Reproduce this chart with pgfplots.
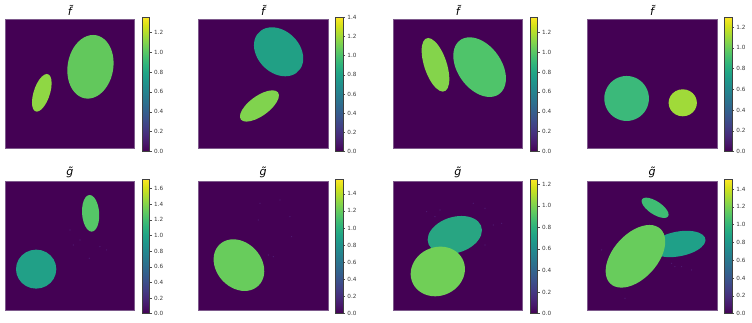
\documentclass[border=0pt]{standalone}
\usepackage{fontspec}
\setmainfont{DejaVu Sans}
\usepackage{pgfplots}
\pgfplotsset{compat=1.18}
\definecolor{vbg}{HTML}{440154}
\definecolor{vframe}{HTML}{7E5A8C}
\definecolor{tlab}{HTML}{3A3A3A}
\definecolor{speck}{HTML}{4F1A72}
\definecolor{a1}{RGB}{98,200,92}
\definecolor{a2}{RGB}{143,215,68}
\definecolor{b1}{RGB}{33,160,133}
\definecolor{b2}{RGB}{128,211,78}
\definecolor{c1}{RGB}{132,212,75}
\definecolor{c2}{RGB}{79,196,106}
\definecolor{d1}{RGB}{59,185,122}
\definecolor{d2}{RGB}{160,218,57}
\definecolor{e1}{RGB}{85,198,103}
\definecolor{e2}{RGB}{33,160,135}
\definecolor{f1}{RGB}{104,204,92}
\definecolor{g1}{RGB}{40,165,130}
\definecolor{g2}{RGB}{112,207,87}
\definecolor{h1}{RGB}{63,188,115}
\definecolor{h2}{RGB}{31,160,136}
\definecolor{h3}{RGB}{104,204,92}
\pgfplotsset{
  panel/.style n args={4}{% x, y of top-left in reference px, meta max, yticks
    at={(#1pt,{(322-#2)*1pt})}, anchor=north west,
    scale only axis, width=129.6pt, height=129pt,
    xmin=0, xmax=389, ymin=0, ymax=387, y dir=reverse,
    xtick=\empty, ytick=\empty,
    axis line style={vframe, line width=0.7pt},
    axis background/.style={fill=vbg},
    colormap/viridis, colorbar,
    point meta min=0, point meta max=#3,
    title style={font=\fontsize{11}{13}\selectfont, yshift=-6pt},
    colorbar style={
      at={(parent axis.north east)}, anchor=north west,
      xshift=-0.84pt, yshift=2.1pt,
      scale only axis, width=7.3pt, height=134.4pt,
      axis line style={black!75, line width=0.5pt},
      ytick={#4}, ytick pos=right, yticklabel pos=right,
      ytick align=outside, major tick length=2.2pt,
      tick style={black!70, line width=0.4pt},
      yticklabel style={font=\fontsize{5.7}{6}\selectfont, text=tlab, xshift=-1.2pt,
        /pgf/number format/fixed, /pgf/number format/fixed zerofill,
        /pgf/number format/precision=1, /pgf/number format/assume math mode=true},
    },
  },
  ell/.style={draw=none, fill=#1, smooth cycle, tension=0.632, no markers, forget plot},
  spk/.style={only marks, mark=*, mark size=0.35pt, speck, forget plot},
}
\begin{document}
\begin{tikzpicture}[x=1pt,y=1pt]
\path[use as bounding box] (0,0) rectangle (752,322);
% ---------- top row
\begin{axis}[panel={5}{19.3}{1.35}{0,0.2,...,1.2}, title={\itshape f̃}]
\addplot[ell=a1] coordinates {(264.5,47)(297.9,59.8)(320.3,94.7)(325.5,142.5)(312.3,190.2)(284.1,225.2)(248.5,238)(215.1,225.2)(192.7,190.2)(187.5,142.5)(200.7,94.7)(228.9,59.8)};
\addplot[ell=a2] coordinates {(125.5,164)(136.2,171.6)(140,192.2)(135.9,220.5)(125,248.8)(110.2,269.4)(95.5,277)(84.8,269.4)(81,248.8)(85.1,220.5)(96,192.2)(110.8,171.6)};
\end{axis}
\begin{axis}[panel={198.3}{19.3}{1.4}{0,0.2,...,1.4}, title={\itshape f̃}]
\addplot[ell=b1] coordinates {(221,24)(259.3,33.8)(292.7,60.7)(312.2,97.5)(312.7,134.3)(293.9,161.2)(261,171)(222.7,161.2)(189.3,134.3)(169.8,97.5)(169.3,60.7)(188.1,33.8)};
\addplot[ell=b2] coordinates {(222.5,213)(239.1,219.3)(240.8,236.5)(227.1,260)(201.8,283.5)(171.5,300.7)(144.5,307)(127.9,300.7)(126.2,283.5)(139.9,260)(165.2,236.5)(195.5,219.3)};
\end{axis}
\begin{axis}[panel={393}{19.3}{1.35}{0,0.2,...,1.2}, title={\itshape f̃}]
\addplot[ell=c1] coordinates {(105.5,56)(126,66.8)(147,96.2)(162.7,136.5)(169,176.8)(164.2,206.2)(149.5,217)(129,206.2)(108,176.8)(92.3,136.5)(86,96.2)(90.8,66.8)};
\addplot[ell=c2] coordinates {(230,54)(270.6,66)(308.3,98.7)(333.1,143.5)(338.3,188.3)(322.6,221)(290,233)(249.4,221)(211.7,188.3)(186.9,143.5)(181.7,98.7)(197.4,66)};
\end{axis}
\begin{axis}[panel={587.3}{19.3}{1.296}{0,0.2,...,1.2}, title={\itshape f̃}]
\addplot[ell=d1] coordinates {(118,170)(151.5,179)(176,203.7)(185,237.5)(176,271.3)(151.5,296)(118,305)(84.5,296)(60,271.3)(51,237.5)(60,203.7)(84.5,179)};
\addplot[ell=d2] coordinates {(286.5,210)(307.8,215.4)(323.3,230.2)(329,250.5)(323.3,270.8)(307.8,285.6)(286.5,291)(265.2,285.6)(249.7,270.8)(244,250.5)(249.7,230.2)(265.2,215.4)};
\end{axis}
% ---------- bottom row
\begin{axis}[panel={5}{181.3}{1.72}{0,0.2,...,1.6}, title={\itshape g̃}]
\addplot[spk] coordinates {(195,146)(205,191)(285,196)(305,206)(253,231)(225,176)};
\addplot[ell=e1] coordinates {(254,41)(267.3,48.4)(277.8,68.5)(282.8,96)(280.8,123.5)(272.5,143.6)(260,151)(246.7,143.6)(236.2,123.5)(231.2,96)(233.2,68.5)(241.5,48.4)};
\addplot[ell=e2] coordinates {(93.5,205)(123.8,212.8)(145.9,234.2)(154,263.5)(145.9,292.8)(123.8,314.2)(93.5,322)(63.2,314.2)(41.1,292.8)(33,263.5)(41.1,234.2)(63.2,212.8)};
\end{axis}
\begin{axis}[panel={198.3}{181.3}{1.57}{0,0.2,...,1.4}, title={\itshape g̃}]
\addplot[spk] coordinates {(180,116)(185,66)(245,56)(280,166)(225,226)(210,221)(275,106)};
\addplot[ell=f1] coordinates {(105,174)(144.3,184.4)(177.7,212.7)(196.1,251.5)(194.7,290.3)(173.7,318.6)(139,329)(99.7,318.6)(66.3,290.3)(47.9,251.5)(49.3,212.7)(70.3,184.4)};
\end{axis}
\begin{axis}[panel={393}{181.3}{1.246}{0,0.2,...,1.2}, title={\itshape g̃}]
\addplot[spk] coordinates {(101,91)(141,86)(126,106)(276,81)(301,131)(326,126)(276,191)(241,66)};
\addplot[ell=g1] coordinates {(205.5,104)(242.3,111.6)(263.9,132.5)(264.5,161)(243.9,189.5)(207.7,210.4)(165.5,218)(128.7,210.4)(107.1,189.5)(106.5,161)(127.1,132.5)(163.3,111.6)};
\addplot[ell=g2] coordinates {(142.5,196)(182,206)(208.7,233.2)(215.6,270.5)(200.7,307.8)(168.2,335)(126.5,345)(87,335)(60.3,307.8)(53.4,270.5)(68.3,233.2)(100.8,206)};
\end{axis}
\begin{axis}[panel={587.3}{181.3}{1.51}{0,0.2,...,1.4}, title={\itshape g̃}]
\addplot[spk] coordinates {(263,256)(283,256)(313,266)(253,246)(43,206)(113,351)};
\addplot[ell=h1] coordinates {(176.5,49)(195.2,53.1)(216.2,64.2)(233.7,79.5)(243.2,94.8)(242,105.9)(230.5,110)(211.8,105.9)(190.8,94.8)(173.3,79.5)(163.8,64.2)(165,53.1)};
\addplot[ell=h2] coordinates {(298,148.5)(333.7,153.8)(353,168.2)(351,188)(328,207.8)(290.3,222.2)(248,227.5)(212.3,222.2)(193,207.8)(195,188)(218,168.2)(255.7,153.8)};
\addplot[ell=h3] coordinates {(186.5,131)(220.4,143.6)(233.9,178)(223.5,225)(191.9,272)(147.6,306.4)(102.5,319)(68.6,306.4)(55.1,272)(65.5,225)(97.1,178)(141.4,143.6)};
\end{axis}
\end{tikzpicture}
\end{document}
